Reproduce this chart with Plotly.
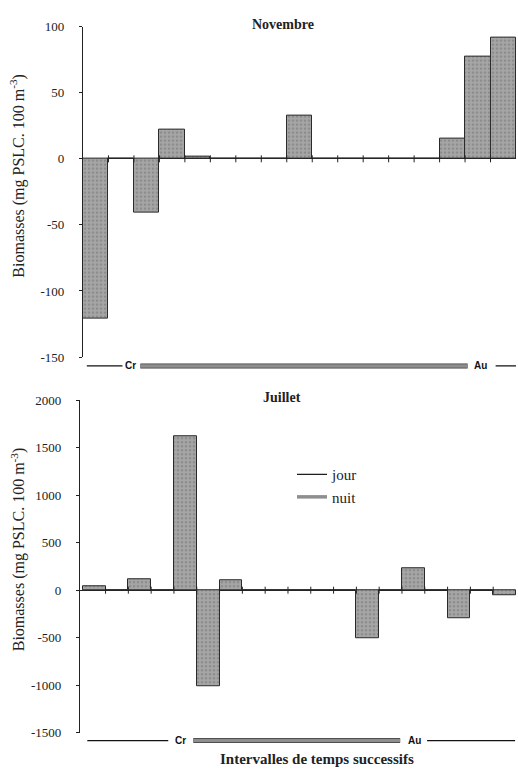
import plotly.graph_objects as go

W, H = 518, 775

# ---- data ----
nov_slots = list(range(17))
nov_values = [-121, 0, -41, 22, 2, 0, 0, 0, 33, 0, 0, 0, 0, 0, 15, 77, 92]

jul_slots = list(range(19))
jul_values = [38, 0, 118, 0, 1625, -1012, 107, 0, 0, 0, 0, 0, -505, 0, 235, 0, -297, 0, -48]

# day/night bands (in slot units)
nov_jour = [(-0.35, 1.05), (15.7, 16.55)]
nov_nuit = [(1.75, 14.6)]
nov_cr, nov_au = 1.36, 15.1
jul_jour = [(-0.3, 3.25), (14.6, 18.46)]
jul_nuit = [(4.35, 13.42)]
jul_cr, jul_au = 3.8, 14.05

nov_yticks = [-150, -100, -50, 0, 50, 100]
nov_yticktext = ["-150", "-100", "-50", "0", "50", "100"]
jul_yticks = [-1500, -1000, -500, 0, 500, 1000, 1500, 2000]
jul_yticktext = ["-1500", "-1000", "-500", "0", "500", "1000", "1500", "2000"]

SERIF = "Liberation Serif"
BAR_FILL = "#9c9c9c"


def py(px):
    return 1 - px / H


fig = go.Figure()

bar_style = dict(
    marker=dict(color=BAR_FILL, line=dict(color="#2a2a2a", width=1),
                pattern=dict(shape=".", fgcolor="#727272", bgcolor="#a6a6a6",
                             size=4, solidity=0.35)),
    showlegend=False, hoverinfo="skip",
)

fig.add_trace(go.Bar(x=nov_slots, y=nov_values, xaxis="x", yaxis="y", **bar_style))
fig.add_trace(go.Bar(x=jul_slots, y=jul_values, xaxis="x2", yaxis="y2", **bar_style))

# small tick marks on zero lines at slot boundaries
for xa, ya, n in [("x", "y", 17), ("x2", "y2", 19)]:
    fig.add_trace(go.Scatter(
        x=[i + 0.5 for i in range(n - 1)], y=[0] * (n - 1), xaxis=xa, yaxis=ya,
        mode="markers", marker=dict(symbol="line-ns", size=5, color="#222",
                                    line=dict(color="#222", width=1)),
        showlegend=False, hoverinfo="skip"))


def add_band(jour, nuit, cr, au, xa, ya, legend):
    for k, (a, b) in enumerate(jour):
        fig.add_trace(go.Scatter(
            x=[a, b], y=[0, 0], xaxis=xa, yaxis=ya, mode="lines",
            line=dict(color="#111", width=1.2), name="jour",
            showlegend=(legend and k == 0), legendrank=1, hoverinfo="skip"))
    for k, (a, b) in enumerate(nuit):
        fig.add_trace(go.Scatter(
            x=[a, b], y=[0, 0], xaxis=xa, yaxis=ya, mode="lines",
            line=dict(color="#3a3a3a", width=5), name="nuit_edge",
            showlegend=False, hoverinfo="skip"))
        fig.add_trace(go.Scatter(
            x=[a, b], y=[0, 0], xaxis=xa, yaxis=ya, mode="lines",
            line=dict(color="#8e8e8e", width=3.5), name="nuit",
            showlegend=(legend and k == 0), legendrank=2, hoverinfo="skip"))
    for pos, lab in [(cr, "Cr"), (au, "Au")]:
        fig.add_annotation(x=pos, y=0, xref=xa, yref=ya, text="<b>%s</b>" % lab,
                           showarrow=False, xanchor="center", yanchor="middle",
                           font=dict(family="Liberation Sans", size=10, color="#111"))


add_band(nov_jour, nov_nuit, nov_cr, nov_au, "x", "y3", False)
add_band(jul_jour, jul_nuit, jul_cr, jul_au, "x2", "y4", True)

yax_common = dict(
    showgrid=False, zeroline=True, zerolinecolor="#222", zerolinewidth=1.2,
    showline=True, linecolor="#222", linewidth=1.2,
    ticks="outside", ticklen=3, tickcolor="#222",
    tickfont=dict(family=SERIF, size=13, color="#222"),
    ticklabelstandoff=12,
)
xax_common = dict(showgrid=False, zeroline=False, showline=False,
                  showticklabels=False, ticks="")

fig.update_layout(
    width=W, height=H,
    margin=dict(l=0, r=0, t=0, b=0),
    paper_bgcolor="white", plot_bgcolor="white",
    bargap=0,
    xaxis=dict(domain=[83 / W, 516 / W], range=[-0.5, 16.5], anchor="y", **xax_common),
    yaxis=dict(domain=[py(357), py(20)], range=[-150, 100], tickvals=nov_yticks,
               ticktext=nov_yticktext, anchor="x", **yax_common),
    xaxis2=dict(domain=[80 / W, 516 / W], range=[-0.62, 18.5], anchor="y2", **xax_common),
    yaxis2=dict(domain=[py(740), py(401)], range=[-1500, 2000], tickvals=jul_yticks,
                ticktext=jul_yticktext, anchor="x2", **yax_common),
    yaxis3=dict(domain=[py(374), py(358)], range=[-1, 1], anchor="x", visible=False),
    yaxis4=dict(domain=[py(756), py(740)], range=[-1, 1], anchor="x2", visible=False),
    legend=dict(x=292 / W, y=py(460), xanchor="left", yanchor="top",
                font=dict(family=SERIF, size=15, color="#222"),
                bgcolor="rgba(0,0,0,0)", itemwidth=30, traceorder="normal"),
    showlegend=True,
)

annos = [
    dict(text="<b>Novembre</b>", x=283 / W, y=py(18), font=dict(size=14)),
    dict(text="<b>Juillet</b>", x=282 / W, y=py(398), font=dict(size=14)),
    dict(text="Biomasses (mg PSLC. 100 m<sup>-3</sup>)", x=18 / W, y=py(172),
         textangle=-90, font=dict(size=16)),
    dict(text="Biomasses (mg PSLC. 100 m<sup>-3</sup>)", x=18 / W, y=py(553),
         textangle=-90, font=dict(size=16)),
    dict(text="<b>Intervalles de temps successifs</b>", x=317 / W, y=py(767),
         font=dict(size=15)),
]
for a in annos:
    a["font"].update(family=SERIF, color="#222")
    fig.add_annotation(xref="paper", yref="paper", showarrow=False,
                       xanchor="center", yanchor="middle", **a)

fig.write_html("out.html")
